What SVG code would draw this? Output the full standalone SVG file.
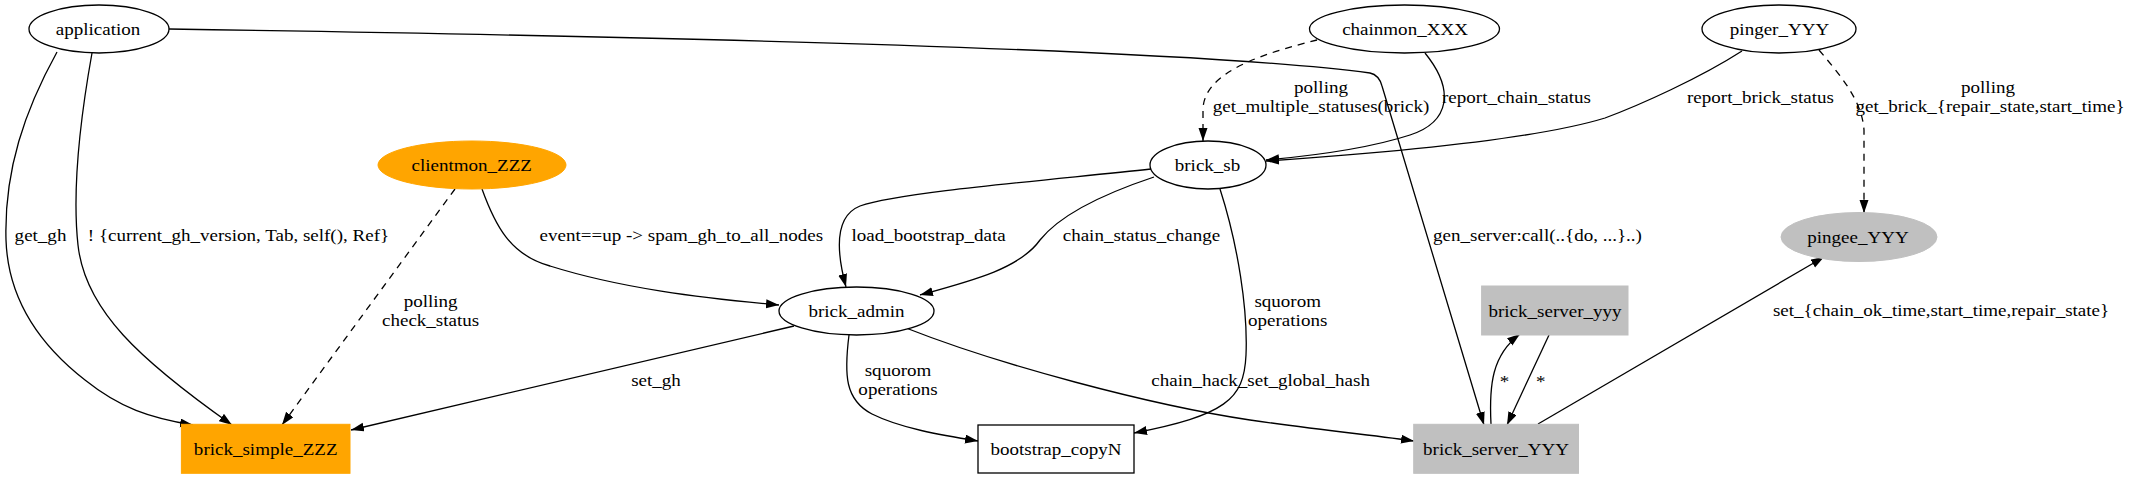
<svg xmlns="http://www.w3.org/2000/svg" width="2134" height="480" viewBox="0 0 2134 480">
<style>
text{font-family:"Liberation Serif","Times New Roman",serif;font-size:17px;fill:#000}
.m{text-anchor:middle}
.n{fill:#fff;stroke:#000;stroke-width:1.3}
.or{fill:#ffa500;stroke:#ffa500}
.gr{fill:#c0c0c0;stroke:#c0c0c0}
.e{fill:none;stroke:#000;stroke-width:1.3}
.d{stroke-dasharray:7,6}
</style>
<defs>
<marker id="arr" markerWidth="14" markerHeight="10" refX="13" refY="4.5" orient="auto" markerUnits="userSpaceOnUse"><path d="M0,0 L13,4.5 L0,9 z" fill="#000"/></marker>
</defs>
<rect width="2134" height="480" fill="#fff"/>
<g id="connectors">
<path class="e" marker-end="url(#arr)" d="M169,29 C700,37 1200,50 1370,73 Q1379,75 1382,86 L1484,425"/>
<path class="e" marker-end="url(#arr)" d="M57,52 C25,110 4,170 6,240 C8,300 40,345 85,380 C120,408 150,418 193,425"/>
<path class="e" marker-end="url(#arr)" d="M92,53 C80,120 72,190 78,245 C85,310 140,360 232,425"/>
<path class="e d" marker-end="url(#arr)" d="M455,189 L282,425"/>
<path class="e" marker-end="url(#arr)" d="M482,189 C495,225 510,255 550,266 C620,288 700,298 779,305"/>
<path class="e d" marker-end="url(#arr)" d="M1317,40 C1270,52 1203,70 1203,110 L1203,141"/>
<path class="e" marker-end="url(#arr)" d="M1425,53 C1455,90 1450,122 1410,135 C1370,148 1310,156 1266,160"/>
<path class="e" marker-end="url(#arr)" d="M1742,51 C1700,78 1640,105 1605,118 C1540,138 1400,152 1266,161"/>
<path class="e d" marker-end="url(#arr)" d="M1819,50 C1840,75 1862,100 1864,130 L1864,213"/>
<path class="e" marker-end="url(#arr)" d="M1151,169 C1050,180 900,192 860,206 C835,216 836,250 846,287"/>
<path class="e" marker-end="url(#arr)" d="M1154,177 C1100,195 1060,215 1040,240 C1020,268 975,280 920,295"/>
<path class="e" marker-end="url(#arr)" d="M1220,189 C1238,245 1248,310 1246,355 C1244,400 1225,415 1134,433"/>
<path class="e" marker-end="url(#arr)" d="M794,326 L351,430"/>
<path class="e" marker-end="url(#arr)" d="M849,335 C844,375 845,400 872,414 C900,428 940,435 978,441"/>
<path class="e" marker-end="url(#arr)" d="M906,328 C1000,365 1150,405 1250,420 C1320,430 1380,436 1414,441"/>
<path class="e" marker-end="url(#arr)" d="M1491,424 C1489,385 1492,355 1520,334"/>
<path class="e" marker-end="url(#arr)" d="M1549,335 L1507,425"/>
<path class="e" marker-end="url(#arr)" d="M1538,424 L1824,257"/>
<text transform="matrix(1.12 0 0 1 1433 241)">gen_server:call(..{do, ...}..)</text>
<text class="m" transform="matrix(1.12 0 0 1 40.5 241)">get_gh</text>
<text class="m" transform="matrix(1.12 0 0 1 238.5 241)">! {current_gh_version, Tab, self(), Ref}</text>
<text class="m" transform="matrix(1.12 0 0 1 430.6 307)">polling</text>
<text class="m" transform="matrix(1.12 0 0 1 430.6 326)">check_status</text>
<text transform="matrix(1.12 0 0 1 539.5 241)">event==up -&gt; spam_gh_to_all_nodes</text>
<text class="m" transform="matrix(1.12 0 0 1 1321 93)">polling</text>
<text class="m" transform="matrix(1.12 0 0 1 1321 112)">get_multiple_statuses(brick)</text>
<text transform="matrix(1.12 0 0 1 1442 103)">report_chain_status</text>
<text transform="matrix(1.12 0 0 1 1687 103)">report_brick_status</text>
<text class="m" transform="matrix(1.12 0 0 1 1988 93)">polling</text>
<text class="m" transform="matrix(1.12 0 0 1 1990 112)">get_brick_{repair_state,start_time}</text>
<text transform="matrix(1.12 0 0 1 851.5 241)">load_bootstrap_data</text>
<text transform="matrix(1.12 0 0 1 1062.7 241)">chain_status_change</text>
<text class="m" transform="matrix(1.12 0 0 1 1287.7 307)">squorom</text>
<text class="m" transform="matrix(1.12 0 0 1 1287.7 326)">operations</text>
<text class="m" transform="matrix(1.12 0 0 1 656 386)">set_gh</text>
<text class="m" transform="matrix(1.12 0 0 1 898 376)">squorom</text>
<text class="m" transform="matrix(1.12 0 0 1 898 395)">operations</text>
<text class="m" transform="matrix(1.12 0 0 1 1260.6 386)">chain_hack_set_global_hash</text>
<text class="m" transform="matrix(1.12 0 0 1 1504.6 387)">*</text>
<text class="m" transform="matrix(1.12 0 0 1 1540.7 387)">*</text>
<text class="m" transform="matrix(1.12 0 0 1 1941 316)">set_{chain_ok_time,start_time,repair_state}</text>
</g>
<g id="application"><ellipse class="n" cx="99" cy="29" rx="70" ry="24"/><text class="m" transform="matrix(1.12 0 0 1 98 35)">application</text></g>
<g id="chainmon_XXX"><ellipse class="n" cx="1404.5" cy="29" rx="95" ry="24"/><text class="m" transform="matrix(1.12 0 0 1 1405 35)">chainmon_XXX</text></g>
<g id="pinger_YYY"><ellipse class="n" cx="1779" cy="29" rx="77" ry="24"/><text class="m" transform="matrix(1.12 0 0 1 1779.5 35)">pinger_YYY</text></g>
<g id="clientmon_ZZZ"><ellipse class="or" cx="472" cy="165" rx="94" ry="24"/><text class="m" transform="matrix(1.12 0 0 1 471.7 171)">clientmon_ZZZ</text></g>
<g id="brick_sb"><ellipse class="n" cx="1208" cy="165" rx="58" ry="24"/><text class="m" transform="matrix(1.12 0 0 1 1207.5 171)">brick_sb</text></g>
<g id="pingee_YYY"><ellipse class="gr" cx="1859" cy="237" rx="78" ry="24.5"/><text class="m" transform="matrix(1.12 0 0 1 1858 243)">pingee_YYY</text></g>
<g id="brick_admin"><ellipse class="n" cx="856.5" cy="311" rx="77.5" ry="24"/><text class="m" transform="matrix(1.12 0 0 1 856.5 317)">brick_admin</text></g>
<g id="brick_server_yyy"><rect class="gr" x="1481.6" y="286" width="146.4" height="49"/><text class="m" transform="matrix(1.12 0 0 1 1555 317)">brick_server_yyy</text></g>
<g id="brick_simple_ZZZ"><rect class="or" x="181.4" y="424.3" width="168.6" height="49"/><text class="m" transform="matrix(1.12 0 0 1 265.7 455)">brick_simple_ZZZ</text></g>
<g id="bootstrap_copyN"><rect class="n" x="978" y="425" width="156" height="48"/><text class="m" transform="matrix(1.12 0 0 1 1056 455)">bootstrap_copyN</text></g>
<g id="brick_server_YYY"><rect class="gr" x="1413.7" y="424.3" width="164.8" height="49"/><text class="m" transform="matrix(1.12 0 0 1 1496 455)">brick_server_YYY</text></g>
</svg>
